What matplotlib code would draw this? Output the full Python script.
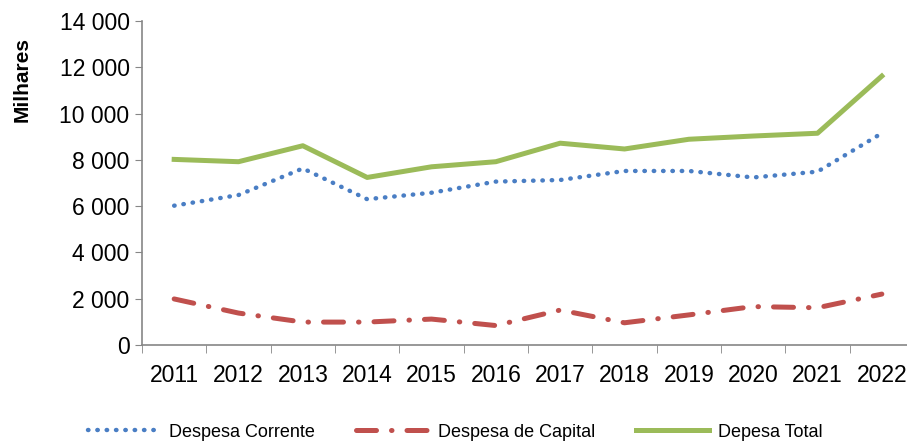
import matplotlib.pyplot as plt
from matplotlib.ticker import FuncFormatter

# values (thousands)
years = ["2011", "2012", "2013", "2014", "2015", "2016",
         "2017", "2018", "2019", "2020", "2021", "2022"]
corrente = [6020, 6480, 7630, 6300, 6580, 7060, 7130, 7520, 7520, 7240, 7490, 9150]
capital = [1990, 1380, 990, 990, 1120, 840, 1510, 960, 1300, 1660, 1610, 2200]
total = [8020, 7920, 8610, 7240, 7700, 7920, 8720, 8470, 8890, 9030, 9150, 11620]

plt.rcParams["font.family"] = ["Liberation Sans", "DejaVu Sans"]

fig = plt.figure(figsize=(9.07, 4.44), dpi=100)
ax = fig.add_axes([142 / 907, 1 - 345 / 444, 772 / 907, 324 / 444])

x = list(range(len(years)))
ax.plot(x, corrente, color="#4A7EC4", linestyle=(0, (0.1, 2.0)), linewidth=3.2,
        dash_capstyle="round", label="Despesa Corrente")
ax.plot(x, capital, color="#C0504D", linestyle=(0, (4, 3, 0.1, 3)), linewidth=3.6,
        dash_capstyle="round", label="Despesa de Capital")
ax.plot(x, total, color="#9BBB59", linewidth=3.6, label="Depesa Total")

ax.set_xlim(-0.5, len(years) - 0.5)
ax.set_ylim(0, 14000)
ax.set_yticks(range(0, 14001, 2000))
ax.yaxis.set_major_formatter(FuncFormatter(lambda v, p: f"{int(v):,}".replace(",", " ")))
ax.set_xticks(x)
ax.set_xticklabels(years)
ax.set_xticks([i + 0.5 for i in range(-1, len(years))], minor=True)
ax.tick_params(axis="x", which="major", length=0, pad=14, labelsize=16.5)
ax.tick_params(axis="x", which="minor", length=6, color="#868686")
ax.tick_params(axis="y", length=5, color="#868686", labelsize=16.5, pad=4)

for s in ["top", "right"]:
    ax.spines[s].set_visible(False)
for s in ["left", "bottom"]:
    ax.spines[s].set_color("#868686")
    ax.spines[s].set_linewidth(1.2)

fig.text(22 / 907, 1 - 80 / 444, "Milhares", rotation=90, fontsize=15,
         fontweight="bold", ha="center", va="center")

fig.legend(loc="center", bbox_to_anchor=(455 / 907, 1 - 432 / 444), ncol=3,
           frameon=False, fontsize=13, handlelength=4.0, columnspacing=2.3,
           handletextpad=0.5)

fig.savefig("out.png", dpi=100)
